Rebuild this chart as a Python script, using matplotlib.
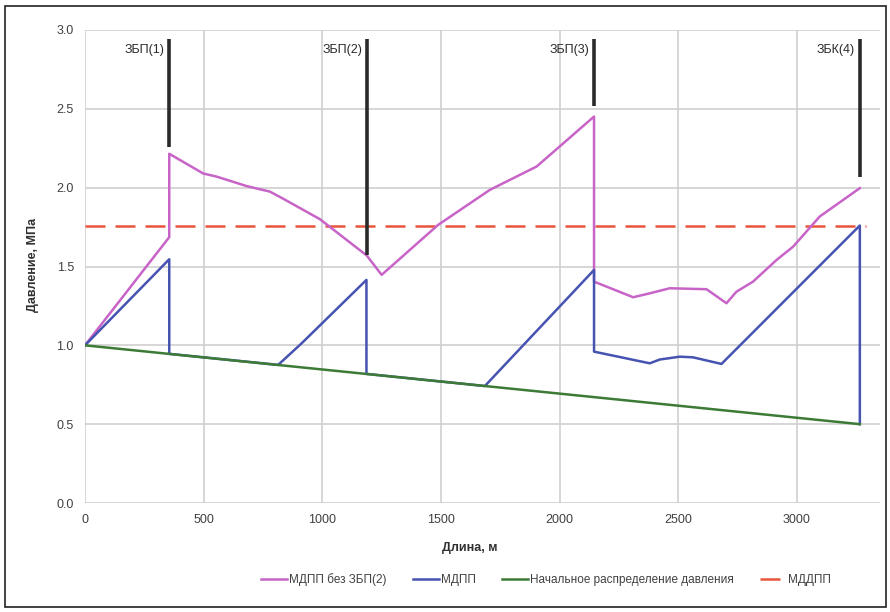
import matplotlib
matplotlib.use('Agg')
import matplotlib.pyplot as plt
from matplotlib.patches import Rectangle

plt.rcParams['font.family'] = ['Liberation Sans', 'DejaVu Sans']

# МДПП без ЗБП(2)
pink_x = [0, 355, 355, 498, 555, 681, 779, 835, 990, 1187, 1250, 1488, 1706, 1903, 2145,
          2145, 2310, 2380, 2464, 2619, 2703, 2745, 2815, 2913, 2984, 3096, 3265]
pink_y = [1.0, 1.686, 2.215, 2.09, 2.07, 2.01, 1.975, 1.93, 1.80, 1.57, 1.447, 1.764, 1.986, 2.134, 2.451,
          1.404, 1.305, 1.33, 1.362, 1.356, 1.267, 1.34, 1.404, 1.54, 1.626, 1.817, 1.997]

# МДПП
blue_x = [0, 355, 355, 814, 913, 1186, 1186, 1685, 2145, 2145, 2380, 2422, 2506, 2562, 2682, 3265, 3265]
blue_y = [1.0, 1.546, 0.946, 0.876, 1.013, 1.415, 0.819, 0.742, 1.478, 0.96, 0.886, 0.91, 0.928, 0.924, 0.882, 1.76, 0.50]

# Начальное распределение давления
green_x = [0, 3265]
green_y = [1.0, 0.50]

# МДДПП
red_x = [0, 3290]
red_y = [1.76, 1.76]

# valve markers
valve_x = [355, 1189, 2145, 3265]
valve_lo = [2.26, 1.574, 2.515, 2.07]
valve_hi = [2.94, 2.94, 2.94, 2.94]
valve_names = ['ЗБП(1)', 'ЗБП(2)', 'ЗБП(3)', 'ЗБК(4)']

fig = plt.figure(figsize=(8.9, 6.12), dpi=100)
ax = fig.add_axes([85/890, 1-503/612, 795/890, 473/612])

ax.plot(pink_x, pink_y, color='#C864C8', lw=1.8, label='МДПП без ЗБП(2)', zorder=3)
ax.plot(blue_x, blue_y, color='#4653B0', lw=1.8, label='МДПП', zorder=4)
ax.plot(green_x, green_y, color='#3C7A36', lw=1.8, label='Начальное распределение давления', zorder=4)
ax.plot(red_x, red_y, color='#E8563C', lw=1.8, ls=(0, (8, 4)), label='МДДПП', zorder=2)

for x, lo, hi, name in zip(valve_x, valve_lo, valve_hi, valve_names):
    ax.plot([x, x], [lo, hi], color='#2a2a2a', lw=2.6, solid_capstyle='butt', zorder=5)
    ax.text(x - 20, 2.87, name, ha='right', va='center', fontsize=9, color='#2a2a2a')

ax.set_xlim(0, 3350)
ax.set_ylim(0, 3.0)
ax.set_xticks(range(0, 3001, 500))
ax.set_yticks([0, 0.5, 1.0, 1.5, 2.0, 2.5, 3.0])
ax.yaxis.set_major_formatter(matplotlib.ticker.FormatStrFormatter('%.1f'))
ax.grid(True, color='#cfcfcf', lw=1.2)
ax.set_axisbelow(True)
for s in ax.spines.values():
    s.set_visible(False)
ax.tick_params(length=0, labelsize=9, labelcolor='#404040', pad=8)

fig.text(470/890, 1-548/612, 'Длина, м', ha='center', va='center', fontsize=9, fontweight='bold', color='#303030')
fig.text(33/890, 1-265/612, 'Давление, МПа', ha='center', va='center', rotation=90,
         fontsize=9, fontweight='bold', color='#303030')

fig.legend(loc='center', bbox_to_anchor=(546/890, 1-580/612), ncol=4, frameon=False,
           fontsize=8.5, handlelength=2.2, columnspacing=2.2, handletextpad=0.2,
           labelcolor='#404040')

fig.patches.append(Rectangle((5/890, 5/612), 881/890, 601/612, transform=fig.transFigure,
                             fill=False, edgecolor='#222222', lw=1.2))

fig.savefig('out.png', dpi=100)
